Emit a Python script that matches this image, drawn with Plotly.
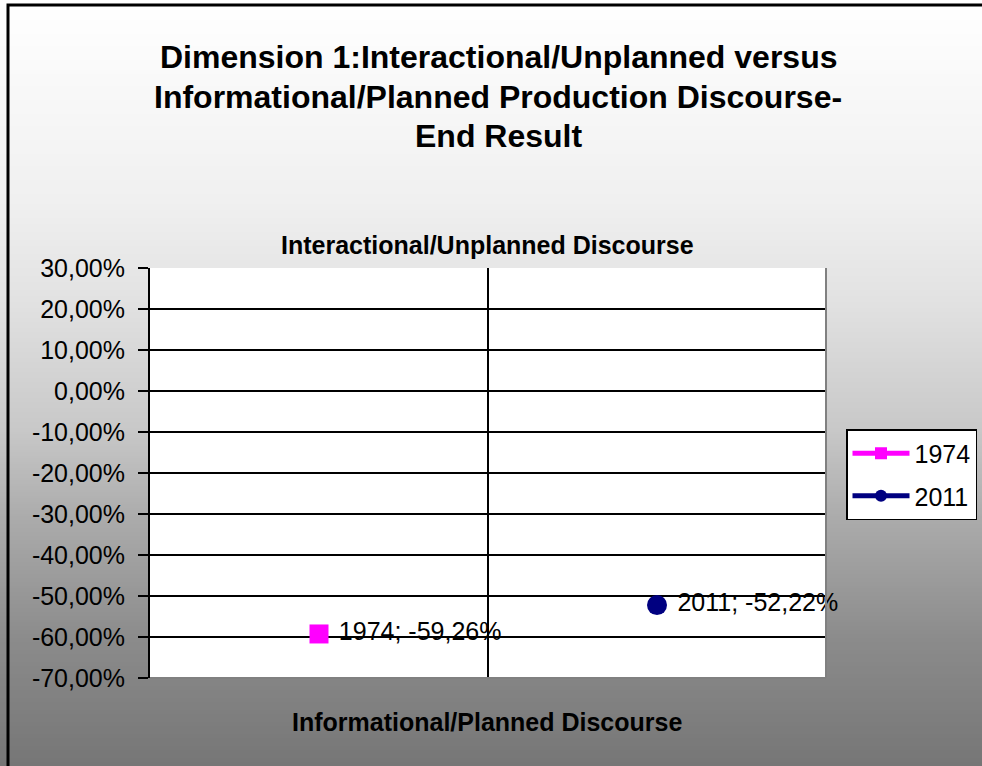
import plotly.graph_objects as go

# ---- data ----
categories = ["1974", "2011"]
values_pct = [-59.26, -52.22]
series_names = ["1974", "2011"]
y_ticks_pct = [30, 20, 10, 0, -10, -20, -30, -40, -50, -60, -70]

# ---- styling ----
colors = ["#FF00FF", "#000080"]
symbols = ["square", "circle"]
marker_sizes = [19, 20]
FONT = "Liberation Sans, Arial, sans-serif"

W, H = 982, 766
L, R_PIX, T_PIX, B_PIX = 150, 826, 268, 678
PW, PH = R_PIX - L, B_PIX - T_PIX


def px_x(px):
    return (px - L) / PW


def px_y(py):
    return (B_PIX - py) / PH


def fmt_pct(v):
    # comma decimal separator and a plain hyphen for negatives
    return f"{v:.2f}%".replace(".", ",")


fig = go.Figure()
for i, (name, cat, val, col, sym, ms) in enumerate(zip(series_names, categories, values_pct,
                                                        colors, symbols, marker_sizes)):
    fig.add_trace(go.Scatter(
        x=[cat], y=[val / 100], name=name,
        legendgroup=f"g{i}",
        mode="lines+markers+text",
        line=dict(color=col, width=1),
        marker=dict(symbol=sym, size=ms, color=col, line=dict(width=0)),
        text=["\u00a0" + f"{name}; {fmt_pct(val)}"],
        textposition="middle right",
        textfont=dict(family=FONT, size=25, color="black"),
        cliponaxis=False,
        hoverinfo="skip",
    ))

# background: vertical grey gradient built from thin bands
stops = [(0, 255), (200, 240), (300, 226), (430, 200), (515, 172), (640, 139), (766, 118)]


def grey_at(py):
    for (a, ca), (b, cb) in zip(stops[:-1], stops[1:]):
        if a <= py <= b:
            t = (py - a) / (b - a)
            return round(ca + (cb - ca) * t)
    return stops[-1][1]


shapes = []
step = 2
for i in range(0, H, step):
    g = grey_at(i + step / 2)
    shapes.append(dict(type="rect", xref="paper", yref="paper",
                       x0=px_x(-2), x1=px_x(W + 2),
                       y0=px_y(i + step + 0.5), y1=px_y(i),
                       fillcolor=f"rgb({g},{g},{g})", line=dict(width=0),
                       layer="below"))
# white plot area
shapes.append(dict(type="rect", xref="paper", yref="paper", x0=0, x1=1, y0=0, y1=1,
                   fillcolor="white", line=dict(width=0), layer="below"))
# grey right / bottom frame of plot area
shapes.append(dict(type="line", xref="paper", yref="paper", x0=1, x1=1, y0=0, y1=1,
                   line=dict(color="#808080", width=2), layer="above"))
shapes.append(dict(type="line", xref="paper", yref="paper", x0=0, x1=1, y0=0, y1=0,
                   line=dict(color="#808080", width=2), layer="above"))
# outer chart border
shapes.append(dict(type="rect", xref="paper", yref="paper",
                   x0=px_x(8), x1=px_x(W + 20), y0=px_y(H + 20), y1=px_y(5),
                   fillcolor="rgba(0,0,0,0)", line=dict(color="black", width=3),
                   layer="above"))

title_lines = ["Dimension 1:Interactional/Unplanned versus",
               "Informational/Planned Production Discourse-",
               "End Result"]
title_y = [57, 97, 136]
annotations = []
for txt, ty in zip(title_lines, title_y):
    annotations.append(dict(text=f"<b>{txt}</b>", xref="paper", yref="paper",
                            x=px_x(498), y=px_y(ty), xanchor="center", yanchor="middle",
                            showarrow=False, font=dict(family=FONT, size=32, color="black")))
annotations.append(dict(text="<b>Interactional/Unplanned Discourse</b>", xref="paper", yref="paper",
                        x=px_x(487), y=px_y(245), xanchor="center", yanchor="middle",
                        showarrow=False, font=dict(family=FONT, size=25, color="black")))
annotations.append(dict(text="<b>Informational/Planned Discourse</b>", xref="paper", yref="paper",
                        x=px_x(487), y=px_y(722), xanchor="center", yanchor="middle",
                        showarrow=False, font=dict(family=FONT, size=25, color="black")))

fig.update_layout(
    width=W, height=H,
    margin=dict(l=L, r=W - R_PIX, t=T_PIX, b=H - B_PIX, pad=0, autoexpand=False),
    paper_bgcolor="white", plot_bgcolor="white",
    separators=",.",
    font=dict(family=FONT, size=25, color="black"),
    showlegend=True,
    legend=dict(x=px_x(846), y=px_y(429), xanchor="left", yanchor="top",
                bgcolor="white", bordercolor="black", borderwidth=1.5,
                font=dict(family=FONT, size=25, color="black"),
                itemsizing="constant", itemwidth=57, tracegroupgap=7),
    shapes=shapes,
    annotations=annotations,
)
fig.update_xaxes(type="category", categoryorder="array", categoryarray=categories,
                 range=[-0.5, 1.5], tickson="boundaries", showgrid=True,
                 gridcolor="black", gridwidth=1.6, showticklabels=False, ticks="",
                 showline=False, zeroline=False)
fig.update_yaxes(range=[-0.70, 0.30], tickvals=[v / 100 for v in y_ticks_pct],
                 ticktext=[fmt_pct(v) for v in y_ticks_pct],
                 ticklabelstandoff=8,
                 showgrid=True, gridcolor="black", gridwidth=1.6,
                 zeroline=False, showline=True, linecolor="black", linewidth=2,
                 ticks="outside", ticklen=10, tickwidth=2, tickcolor="black",
                 tickfont=dict(family=FONT, size=25, color="black"))

fig.write_html("out.html")
